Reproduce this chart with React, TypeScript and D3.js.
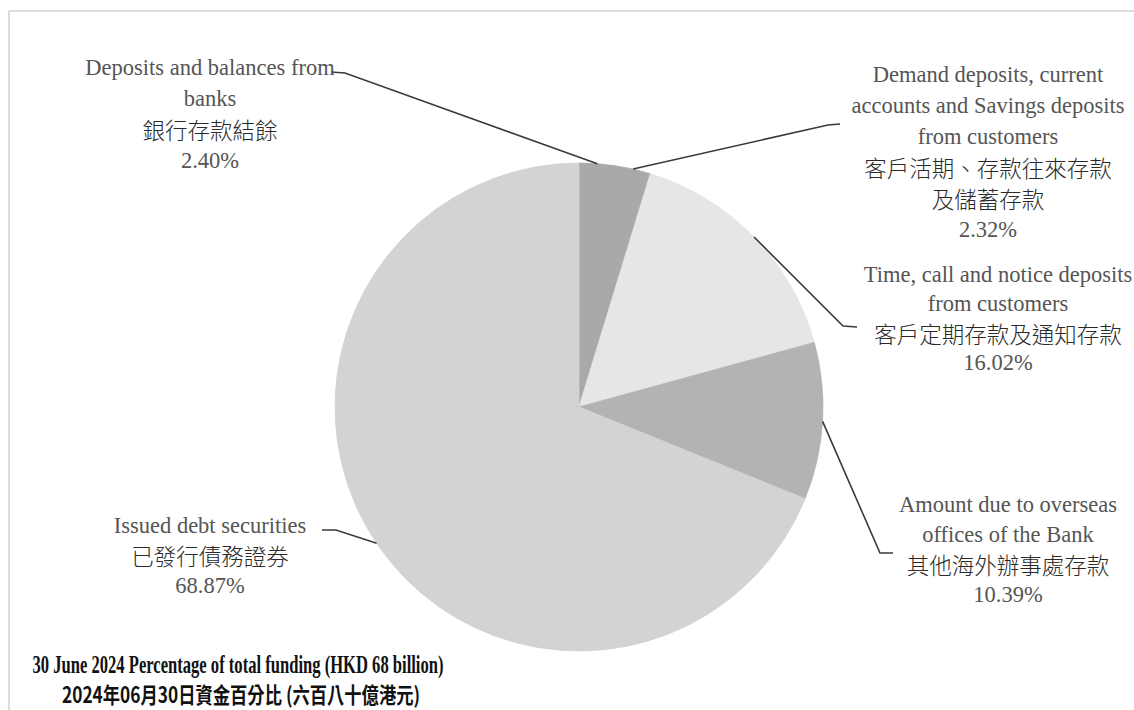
import React from 'react';
import * as d3 from 'd3';

// funding mix, 30 June 2024 (% of total funding)
const categoriesEn: string[][] = [
  ['Deposits and balances from', 'banks'],
  ['Demand deposits, current', 'accounts and Savings deposits', 'from customers'],
  ['Time, call and notice deposits', 'from customers'],
  ['Amount due to overseas', 'offices of the Bank'],
  ['Issued debt securities'],
];
const categoriesZh: string[][] = [
  ['銀行存款結餘'],
  ['客戶活期、存款往來存款', '及儲蓄存款'],
  ['客戶定期存款及通知存款'],
  ['其他海外辦事處存款'],
  ['已發行債務證券'],
];
const shares = [2.4, 2.32, 16.02, 10.39, 68.87];
const titleLines = [
  '30 June 2024 Percentage of total funding (HKD 68 billion)',
  '2024年06月30日資金百分比 (六百八十億港元)',
];

const W = 1134;
const H = 710;
const cx = 579;
const cy = 407;
const radius = 244;

const sliceColors = ['#a9a9a9', '#a9a9a9', '#e6e6e6', '#b3b3b3', '#d3d3d3'];

// where each label block sits and how its leader line bends
const labelLayout = [
  { x: 210, y: 67, lh: 31, elbow: [345, 73], end: [331, 72] },
  { x: 988, y: 74, lh: 31, elbow: [828, 125], end: [840, 124] },
  { x: 998, y: 274, lh: 29.5, elbow: [843, 326], end: [857, 327] },
  { x: 1008, y: 504, lh: 30, elbow: [880, 553], end: [893, 553] },
  { x: 210, y: 525, lh: 30, elbow: [336, 530], end: [322, 530] },
];

const serif = '"Liberation Serif", "Times New Roman", serif';
const cjk = '"Noto Sans CJK TC", "Noto Sans CJK SC", sans-serif';

export default function App() {
  const pie = d3.pie<number>().sort(null).value(d => d);
  const arcs = pie(shares);
  const arc = d3.arc<d3.PieArcDatum<number>>().innerRadius(0).outerRadius(radius);
  const edge = d3.arc<d3.PieArcDatum<number>>().innerRadius(radius).outerRadius(radius);
  const line = d3.line();

  return (
    <div style={{ position: 'absolute', left: 0, top: 0, background: '#fff' }}>
      <svg width={W} height={H} viewBox={`0 0 ${W} ${H}`} style={{ display: 'block' }}>
        <rect width={W} height={H} fill="#fff" />
        {/* frame */}
        <line x1={9} y1={11} x2={W} y2={11} stroke="#cfcfcf" strokeWidth={1.5} />
        <line x1={9} y1={11} x2={9} y2={H} stroke="#cfcfcf" strokeWidth={1.5} />

        <g transform={`translate(${cx},${cy})`}>
          {arcs.map((a, i) => (
            <path key={i} d={arc(a) || ''} fill={sliceColors[i]} stroke={sliceColors[i]} strokeWidth={0.8} />
          ))}
        </g>

        {arcs.map((a, i) => {
          const [ex, ey] = edge.centroid(a);
          const L = labelLayout[i];
          const pts: [number, number][] = [
            [cx + ex, cy + ey],
            [L.elbow[0], L.elbow[1]],
            [L.end[0], L.end[1]],
          ];
          return (
            <path key={i} d={line(pts) || ''} fill="none" stroke="#3a3a3a" strokeWidth={1.6} />
          );
        })}

        {shares.map((v, i) => {
          const L = labelLayout[i];
          const rows: { t: string; kind: string }[] = [
            ...categoriesEn[i].map(t => ({ t, kind: 'en' })),
            ...categoriesZh[i].map(t => ({ t, kind: 'zh' })),
            { t: `${v.toFixed(2)}%`, kind: 'en' },
          ];
          return (
            <g key={i}>
              {rows.map((r, j) => (
                <text
                  key={j}
                  x={L.x}
                  y={L.y + j * L.lh}
                  textAnchor="middle"
                  dominantBaseline="central"
                  fontFamily={r.kind === 'en' ? serif : cjk}
                  fontSize={r.kind === 'en' ? 22.5 : 22.5}
                  fontWeight={r.kind === 'en' ? 400 : 300}
                  fill={r.kind === 'en' ? '#555555' : '#2a2a2a'}
                >
                  {r.t}
                </text>
              ))}
            </g>
          );
        })}

        <text
          x={238}
          y={664}
          textAnchor="middle"
          dominantBaseline="central"
          fontFamily={serif}
          fontWeight="bold"
          fontSize={25}
          fill="#111"
          textLength={411}
          lengthAdjust="spacingAndGlyphs"
        >
          {titleLines[0]}
        </text>
        <text
          x={241}
          y={693}
          textAnchor="middle"
          dominantBaseline="central"
          fontFamily={cjk}
          fontWeight="bold"
          fontSize={22}
          fill="#111"
          textLength={358}
          lengthAdjust="spacingAndGlyphs"
        >
          {titleLines[1]}
        </text>
      </svg>
    </div>
  );
}
